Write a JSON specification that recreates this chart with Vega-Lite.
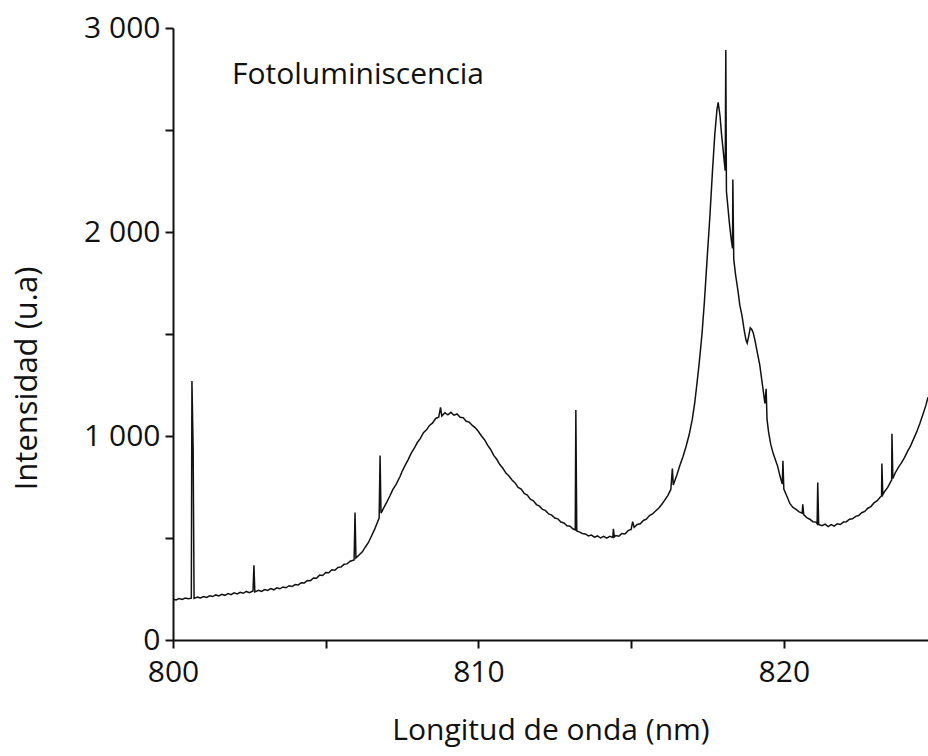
{
  "$schema": "https://vega.github.io/schema/vega-lite/v6.json",
  "width": 755,
  "height": 612,
  "autosize": {"type": "none"},
  "padding": {"left": 173, "top": 28, "right": 0, "bottom": 116},
  "background": "white",
  "config": {"view": {"stroke": null}, "font": "Open Sans"},
  "layer": [
    {
      "data": {"values": [
        {"nm": 800.0, "i": 200}, {"nm": 800.1, "i": 196}, {"nm": 800.2, "i": 203}, {"nm": 800.3, "i": 199}, {"nm": 800.4, "i": 206}, {"nm": 800.5, "i": 202},
        {"nm": 800.6, "i": 205}, {"nm": 800.62, "i": 1270}, {"nm": 800.66, "i": 930}, {"nm": 800.69, "i": 204},
        {"nm": 800.8, "i": 210}, {"nm": 800.9, "i": 206}, {"nm": 801.0, "i": 213}, {"nm": 801.1, "i": 209}, {"nm": 801.2, "i": 217}, {"nm": 801.3, "i": 213},
        {"nm": 801.4, "i": 221}, {"nm": 801.5, "i": 216}, {"nm": 801.6, "i": 224}, {"nm": 801.7, "i": 219}, {"nm": 801.8, "i": 228}, {"nm": 801.9, "i": 222},
        {"nm": 802.0, "i": 231}, {"nm": 802.1, "i": 226}, {"nm": 802.2, "i": 234}, {"nm": 802.3, "i": 229}, {"nm": 802.4, "i": 238}, {"nm": 802.5, "i": 232},
        {"nm": 802.62, "i": 240}, {"nm": 802.65, "i": 366}, {"nm": 802.68, "i": 236},
        {"nm": 802.8, "i": 244}, {"nm": 802.9, "i": 238}, {"nm": 803.0, "i": 247}, {"nm": 803.1, "i": 243}, {"nm": 803.2, "i": 252}, {"nm": 803.3, "i": 246},
        {"nm": 803.4, "i": 256}, {"nm": 803.5, "i": 251}, {"nm": 803.6, "i": 260}, {"nm": 803.7, "i": 256}, {"nm": 803.8, "i": 266}, {"nm": 803.9, "i": 262},
        {"nm": 804.0, "i": 272}, {"nm": 804.1, "i": 270}, {"nm": 804.2, "i": 281}, {"nm": 804.3, "i": 280}, {"nm": 804.4, "i": 292}, {"nm": 804.5, "i": 291},
        {"nm": 804.6, "i": 304}, {"nm": 804.7, "i": 303}, {"nm": 804.8, "i": 318}, {"nm": 804.9, "i": 316}, {"nm": 805.0, "i": 331}, {"nm": 805.1, "i": 330},
        {"nm": 805.2, "i": 344}, {"nm": 805.3, "i": 342}, {"nm": 805.4, "i": 356}, {"nm": 805.5, "i": 358}, {"nm": 805.6, "i": 371}, {"nm": 805.7, "i": 373},
        {"nm": 805.8, "i": 386}, {"nm": 805.93, "i": 392}, {"nm": 805.96, "i": 625}, {"nm": 805.99, "i": 402},
        {"nm": 806.1, "i": 418}, {"nm": 806.2, "i": 432}, {"nm": 806.3, "i": 456}, {"nm": 806.4, "i": 478}, {"nm": 806.5, "i": 510}, {"nm": 806.6, "i": 542},
        {"nm": 806.75, "i": 598}, {"nm": 806.78, "i": 904}, {"nm": 806.81, "i": 622},
        {"nm": 806.9, "i": 648}, {"nm": 807.0, "i": 676}, {"nm": 807.1, "i": 706}, {"nm": 807.2, "i": 738}, {"nm": 807.3, "i": 762}, {"nm": 807.43, "i": 800},
        {"nm": 807.5, "i": 826}, {"nm": 807.6, "i": 856}, {"nm": 807.7, "i": 884}, {"nm": 807.8, "i": 916}, {"nm": 807.9, "i": 940}, {"nm": 808.0, "i": 968},
        {"nm": 808.1, "i": 988}, {"nm": 808.2, "i": 1016}, {"nm": 808.3, "i": 1030}, {"nm": 808.4, "i": 1052}, {"nm": 808.5, "i": 1064}, {"nm": 808.6, "i": 1086},
        {"nm": 808.7, "i": 1092}, {"nm": 808.76, "i": 1140}, {"nm": 808.8, "i": 1098}, {"nm": 808.9, "i": 1114}, {"nm": 809.0, "i": 1104}, {"nm": 809.1, "i": 1116},
        {"nm": 809.2, "i": 1102}, {"nm": 809.3, "i": 1108}, {"nm": 809.4, "i": 1092}, {"nm": 809.5, "i": 1090}, {"nm": 809.6, "i": 1072}, {"nm": 809.7, "i": 1068},
        {"nm": 809.8, "i": 1052}, {"nm": 809.9, "i": 1040}, {"nm": 810.0, "i": 1022}, {"nm": 810.1, "i": 1000}, {"nm": 810.2, "i": 982}, {"nm": 810.3, "i": 955},
        {"nm": 810.4, "i": 934}, {"nm": 810.5, "i": 905}, {"nm": 810.6, "i": 886}, {"nm": 810.7, "i": 860}, {"nm": 810.8, "i": 842}, {"nm": 810.9, "i": 818},
        {"nm": 811.0, "i": 804}, {"nm": 811.1, "i": 784}, {"nm": 811.2, "i": 770}, {"nm": 811.3, "i": 748}, {"nm": 811.4, "i": 740}, {"nm": 811.5, "i": 718},
        {"nm": 811.6, "i": 710}, {"nm": 811.7, "i": 690}, {"nm": 811.8, "i": 682}, {"nm": 811.9, "i": 664}, {"nm": 812.0, "i": 656}, {"nm": 812.1, "i": 640},
        {"nm": 812.2, "i": 634}, {"nm": 812.3, "i": 618}, {"nm": 812.4, "i": 612}, {"nm": 812.5, "i": 598}, {"nm": 812.6, "i": 594}, {"nm": 812.7, "i": 578},
        {"nm": 812.8, "i": 574}, {"nm": 812.9, "i": 560}, {"nm": 813.0, "i": 558}, {"nm": 813.1, "i": 544}, {"nm": 813.17, "i": 540}, {"nm": 813.19, "i": 1128},
        {"nm": 813.22, "i": 534}, {"nm": 813.3, "i": 530}, {"nm": 813.4, "i": 522}, {"nm": 813.5, "i": 520}, {"nm": 813.6, "i": 510}, {"nm": 813.7, "i": 514},
        {"nm": 813.8, "i": 504}, {"nm": 813.9, "i": 510}, {"nm": 814.0, "i": 500}, {"nm": 814.1, "i": 508}, {"nm": 814.2, "i": 499}, {"nm": 814.3, "i": 508},
        {"nm": 814.4, "i": 503}, {"nm": 814.42, "i": 545}, {"nm": 814.45, "i": 505}, {"nm": 814.5, "i": 512}, {"nm": 814.6, "i": 509}, {"nm": 814.7, "i": 522},
        {"nm": 814.8, "i": 520}, {"nm": 814.9, "i": 536}, {"nm": 815.0, "i": 542}, {"nm": 815.05, "i": 580}, {"nm": 815.1, "i": 552}, {"nm": 815.2, "i": 566},
        {"nm": 815.3, "i": 570}, {"nm": 815.4, "i": 586}, {"nm": 815.5, "i": 592}, {"nm": 815.6, "i": 610}, {"nm": 815.7, "i": 618}, {"nm": 815.8, "i": 632},
        {"nm": 815.9, "i": 646}, {"nm": 816.0, "i": 664}, {"nm": 816.1, "i": 686}, {"nm": 816.2, "i": 708}, {"nm": 816.3, "i": 738}, {"nm": 816.35, "i": 840},
        {"nm": 816.38, "i": 760}, {"nm": 816.5, "i": 810}, {"nm": 816.6, "i": 858}, {"nm": 816.7, "i": 900}, {"nm": 816.8, "i": 950}, {"nm": 816.9, "i": 1006},
        {"nm": 817.0, "i": 1080}, {"nm": 817.08, "i": 1160}, {"nm": 817.15, "i": 1250}, {"nm": 817.23, "i": 1360}, {"nm": 817.32, "i": 1500}, {"nm": 817.4, "i": 1660},
        {"nm": 817.48, "i": 1850}, {"nm": 817.58, "i": 2080}, {"nm": 817.66, "i": 2290}, {"nm": 817.74, "i": 2480}, {"nm": 817.81, "i": 2600}, {"nm": 817.85, "i": 2635},
        {"nm": 817.91, "i": 2570}, {"nm": 817.96, "i": 2480}, {"nm": 818.02, "i": 2390}, {"nm": 818.08, "i": 2300}, {"nm": 818.1, "i": 2892}, {"nm": 818.12, "i": 2200},
        {"nm": 818.17, "i": 2120}, {"nm": 818.22, "i": 2040}, {"nm": 818.28, "i": 1960}, {"nm": 818.32, "i": 1920}, {"nm": 818.33, "i": 2257}, {"nm": 818.36, "i": 1866},
        {"nm": 818.42, "i": 1790}, {"nm": 818.49, "i": 1720}, {"nm": 818.56, "i": 1640}, {"nm": 818.63, "i": 1590}, {"nm": 818.7, "i": 1520}, {"nm": 818.76, "i": 1470},
        {"nm": 818.8, "i": 1455}, {"nm": 818.85, "i": 1490}, {"nm": 818.9, "i": 1530}, {"nm": 818.95, "i": 1522}, {"nm": 819.0, "i": 1505}, {"nm": 819.06, "i": 1465},
        {"nm": 819.13, "i": 1410}, {"nm": 819.21, "i": 1350}, {"nm": 819.3, "i": 1250}, {"nm": 819.38, "i": 1160}, {"nm": 819.42, "i": 1231}, {"nm": 819.45, "i": 1080},
        {"nm": 819.5, "i": 1020}, {"nm": 819.57, "i": 960}, {"nm": 819.65, "i": 915}, {"nm": 819.72, "i": 885}, {"nm": 819.8, "i": 850}, {"nm": 819.88, "i": 800},
        {"nm": 819.95, "i": 765}, {"nm": 819.97, "i": 879}, {"nm": 820.0, "i": 740}, {"nm": 820.1, "i": 705}, {"nm": 820.2, "i": 668}, {"nm": 820.3, "i": 650},
        {"nm": 820.4, "i": 640}, {"nm": 820.5, "i": 628}, {"nm": 820.6, "i": 622}, {"nm": 820.62, "i": 665}, {"nm": 820.65, "i": 615}, {"nm": 820.75, "i": 600},
        {"nm": 820.85, "i": 592}, {"nm": 820.95, "i": 580}, {"nm": 821.05, "i": 578}, {"nm": 821.09, "i": 570}, {"nm": 821.11, "i": 772}, {"nm": 821.14, "i": 566},
        {"nm": 821.25, "i": 560}, {"nm": 821.35, "i": 568}, {"nm": 821.45, "i": 556}, {"nm": 821.55, "i": 566}, {"nm": 821.65, "i": 558}, {"nm": 821.75, "i": 570},
        {"nm": 821.85, "i": 566}, {"nm": 821.95, "i": 578}, {"nm": 822.05, "i": 580}, {"nm": 822.15, "i": 592}, {"nm": 822.25, "i": 594}, {"nm": 822.35, "i": 606},
        {"nm": 822.45, "i": 610}, {"nm": 822.55, "i": 624}, {"nm": 822.65, "i": 630}, {"nm": 822.75, "i": 646}, {"nm": 822.85, "i": 654}, {"nm": 822.95, "i": 672},
        {"nm": 823.05, "i": 682}, {"nm": 823.15, "i": 700}, {"nm": 823.2, "i": 706}, {"nm": 823.21, "i": 865}, {"nm": 823.24, "i": 712},
        {"nm": 823.3, "i": 728}, {"nm": 823.4, "i": 748}, {"nm": 823.5, "i": 776}, {"nm": 823.53, "i": 784}, {"nm": 823.54, "i": 1011}, {"nm": 823.57, "i": 792},
        {"nm": 823.65, "i": 820}, {"nm": 823.75, "i": 846}, {"nm": 823.85, "i": 868}, {"nm": 823.95, "i": 894}, {"nm": 824.05, "i": 925}, {"nm": 824.15, "i": 952},
        {"nm": 824.25, "i": 986}, {"nm": 824.35, "i": 1020}, {"nm": 824.45, "i": 1060}, {"nm": 824.55, "i": 1104}, {"nm": 824.65, "i": 1150}, {"nm": 824.72, "i": 1190}
      ]},
      "mark": {"type": "line", "color": "#111111", "strokeWidth": 1.5, "clip": true, "interpolate": "linear"},
      "encoding": {
        "x": {
          "field": "nm", "type": "quantitative",
          "scale": {"domain": [800, 824.72], "nice": false, "zero": false},
          "axis": {
            "title": "Longitud de onda (nm)", "titleFontSize": 30, "titleFontWeight": "normal", "titleColor": "#111111", "titlePadding": 28,
            "values": [800, 805, 810, 815, 820],
            "labelExpr": "datum.value % 10 == 0 ? datum.label : ''",
            "labelFontSize": 30, "labelColor": "#111111", "labelPadding": 9, "labelFlush": false,
            "grid": false, "domainColor": "#111111", "domainWidth": 2, "tickColor": "#111111", "tickWidth": 2, "tickSize": 8
          }
        },
        "y": {
          "field": "i", "type": "quantitative",
          "scale": {"domain": [0, 3000], "nice": false},
          "axis": {
            "title": "Intensidad (u.a)", "titleFontSize": 31, "titleFontWeight": "normal", "titleColor": "#111111", "titlePadding": 40, "titleY": 350,
            "values": [0, 500, 1000, 1500, 2000, 2500, 3000],
            "labelExpr": "datum.value % 1000 == 0 ? replace(format(datum.value, ','), ',', ' ') : ''",
            "labelFontSize": 30, "labelColor": "#111111", "labelPadding": 5,
            "grid": false, "domainColor": "#111111", "domainWidth": 2, "tickColor": "#111111", "tickWidth": 2, "tickSize": 8
          }
        }
      }
    },
    {
      "data": {"values": [{"nm": 801.93, "i": 2770, "label": "Fotoluminiscencia"}]},
      "mark": {"type": "text", "align": "left", "baseline": "middle", "fontSize": 30, "color": "#111111", "font": "Open Sans"},
      "encoding": {
        "x": {"field": "nm", "type": "quantitative"},
        "y": {"field": "i", "type": "quantitative"},
        "text": {"field": "label"}
      }
    }
  ]
}
